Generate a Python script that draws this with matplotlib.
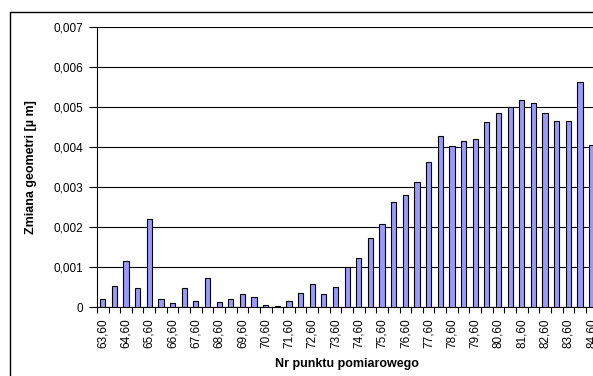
import matplotlib
matplotlib.use("Agg")
import matplotlib.pyplot as plt
import numpy as np
from matplotlib.patches import Rectangle
from matplotlib.ticker import FixedLocator, FuncFormatter

# Measurement points (step 0.5)
points = [63.6, 64.1, 64.6, 65.1, 65.6, 66.1, 66.6, 67.1, 67.6, 68.1,
          68.6, 69.1, 69.6, 70.1, 70.6, 71.1, 71.6, 72.1, 72.6, 73.1,
          73.6, 74.1, 74.6, 75.1, 75.6, 76.1, 76.6, 77.1, 77.6, 78.1,
          78.6, 79.1, 79.6, 80.1, 80.6, 81.1, 81.6, 82.1, 82.6, 83.1,
          83.6, 84.1, 84.6]

# Geometry change [µm]
changes = [0.00020, 0.00053, 0.00115, 0.00049, 0.00220, 0.00020, 0.00010, 0.00047, 0.00016, 0.00072,
           0.00013, 0.00020, 0.00034, 0.00026, 0.00005, 0.00004, 0.00015, 0.00035, 0.00057, 0.00033,
           0.00051, 0.00100, 0.00122, 0.00173, 0.00208, 0.00263, 0.00280, 0.00313, 0.00363, 0.00428,
           0.00403, 0.00415, 0.00420, 0.00463, 0.00485, 0.00499, 0.00517, 0.00509, 0.00485, 0.00464,
           0.00465, 0.00562, 0.00405]

y_ticks = [0, 0.001, 0.002, 0.003, 0.004, 0.005, 0.006, 0.007]

W, H = 593, 376
fig = plt.figure(figsize=(W / 100, H / 100), dpi=100)
plt.rcParams['font.family'] = ['Liberation Sans', 'DejaVu Sans']

# outer chart frame (runs past the right and bottom edges)
fig.patches.append(Rectangle((10 / W, -0.1), 1.2, 1 - 11.5 / H + 0.1,
                             transform=fig.transFigure, fill=False,
                             edgecolor='black', linewidth=1.0, clip_on=False))

ax_left = 96.9 / W
ax_w = (43 * 11.64) / W
ax_bottom = (H - 307.3) / H
ax_h = (307.3 - 26.7) / H
ax = fig.add_axes([ax_left, ax_bottom, ax_w, ax_h])

x = np.arange(len(points))
ax.bar(x, changes, width=0.45, color='#9999FF', edgecolor='black',
       linewidth=0.8, zorder=3)

ax.set_xlim(-0.5, len(points) - 0.5)
ax.set_ylim(0, 0.007)

ax.set_yticks(y_ticks)
ax.yaxis.set_major_formatter(FuncFormatter(
    lambda v, p: '0' if v == 0 else f"{v:.3f}".replace('.', ',')))
ax.grid(axis='y', color='black', linewidth=0.8, zorder=0)
ax.tick_params(axis='y', direction='out', length=6, width=0.8,
               labelsize=8.5, pad=4)

# category labels on every second bar, ticks on category boundaries
ax.set_xticks(x[::2])
ax.set_xticklabels([f"{p:.2f}".replace('.', ',') for p in points[::2]],
                   rotation=90, fontsize=8.5)
ax.xaxis.set_minor_locator(FixedLocator(np.arange(-0.5, len(points), 1.0)))
ax.tick_params(axis='x', which='major', length=0, pad=8)
ax.tick_params(axis='x', which='minor', direction='out', length=4, width=0.8)

for s in ['top', 'right']:
    ax.spines[s].set_visible(False)
for s in ['left', 'bottom']:
    ax.spines[s].set_linewidth(0.8)

ax.set_xlabel('Nr punktu pomiarowego', fontsize=9, fontweight='bold', labelpad=7)
ax.set_ylabel('Zmiana geometri [µ m]', fontsize=9, fontweight='bold', labelpad=12)

fig.savefig('out.png', dpi=100)
